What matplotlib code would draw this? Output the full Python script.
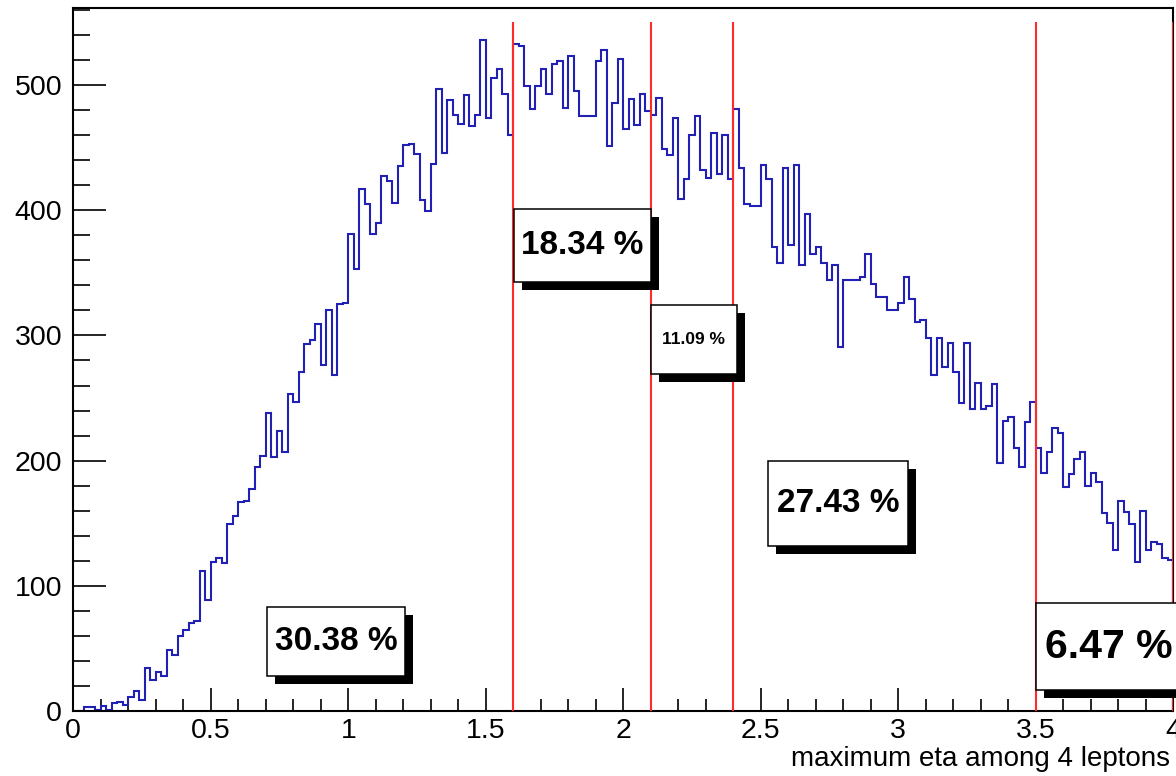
import matplotlib
matplotlib.use("Agg")
import matplotlib.pyplot as plt
import matplotlib.transforms as mtransforms
from matplotlib.patches import Rectangle
from matplotlib.ticker import MultipleLocator
import numpy as np

# 200 bins of 0.02 between 0 and 4
counts = [
    0, 0, 3, 3, 1, 4, 1, 6, 7, 5,
    11, 16, 9, 34, 25, 31, 28, 49, 45, 60,
    65, 70, 72, 112, 89, 119, 122, 118, 149, 156,
    167, 168, 177, 195, 204, 238, 203, 224, 207, 253,
    247, 271, 293, 296, 309, 276, 320, 268, 325, 326,
    381, 353, 417, 405, 381, 390, 427, 423, 406, 435,
    452, 453, 445, 408, 399, 437, 497, 446, 488, 476,
    469, 492, 467, 476, 536, 474, 506, 513, 493, 460,
    533, 531, 499, 481, 499, 513, 493, 517, 519, 482,
    523, 495, 475, 475, 475, 519, 528, 451, 486, 521,
    465, 489, 468, 493, 479, 476, 490, 449, 444, 474,
    409, 425, 460, 475, 432, 426, 462, 429, 460, 425,
    481, 434, 405, 403, 403, 436, 425, 371, 358, 434,
    372, 436, 356, 397, 365, 371, 358, 344, 356, 291,
    344, 344, 344, 347, 365, 341, 331, 331, 320, 320,
    326, 347, 329, 311, 312, 298, 268, 298, 275, 294,
    271, 246, 294, 241, 262, 241, 244, 261, 198, 232,
    235, 210, 195, 231, 247, 210, 190, 207, 226, 222,
    179, 189, 201, 207, 180, 190, 183, 158, 150, 129,
    168, 159, 149, 119, 160, 129, 135, 133, 122, 121,
]
x_min, x_max = 0.0, 4.0
edges = np.linspace(x_min, x_max, len(counts) + 1)

cut_values = [1.6, 2.1, 2.4, 3.5, 4.0]
cut_top = 550

labels = ["30.38 %", "18.34 %", "11.09 %", "27.43 %", "6.47 %"]
# boxes: x0, x1, y0, y1 in data units, text size
box_x0 = [0.704, 1.602, 2.101, 2.526, 3.500]
box_x1 = [1.206, 2.101, 2.413, 3.035, 4.030]
box_y0 = [28, 343, 269, 132, 17]
box_y1 = [83, 401, 324, 200, 86]
box_fs = [24, 24, 12.5, 24, 29.5]

W, H = 1176, 776
fig = plt.figure(figsize=(W / 100, H / 100), dpi=100)
ax = fig.add_axes([73.3 / W, 1 - 711 / H, 1100 / W, (711 - 8.3) / H])

ax.stairs(counts, edges, color="#2020b4", lw=1.5, zorder=2)
ax.vlines(cut_values, 0, cut_top, color="#ff2a2a", lw=1.5, zorder=3)

shadow = mtransforms.offset_copy(ax.transData, fig=fig, x=8, y=-8, units="dots")
for i in range(len(labels)):
    w = box_x1[i] - box_x0[i]
    h = box_y1[i] - box_y0[i]
    ax.add_patch(Rectangle((box_x0[i], box_y0[i]), w, h, facecolor="black",
                           edgecolor="none", transform=shadow, zorder=4, clip_on=False))
    ax.add_patch(Rectangle((box_x0[i], box_y0[i]), w, h, facecolor="white",
                           edgecolor="black", lw=1.1, zorder=5, clip_on=False))
    ax.text((box_x0[i] + box_x1[i]) / 2, (box_y0[i] + box_y1[i]) / 2, labels[i],
            ha="center", va="center", fontsize=box_fs[i], fontweight="bold",
            family="Liberation Sans", zorder=6, clip_on=False)

ax.set_xlim(x_min, x_max)
ax.set_ylim(0, 561.3)

ax.xaxis.set_major_locator(MultipleLocator(0.5))
ax.xaxis.set_minor_locator(MultipleLocator(0.1))
ax.yaxis.set_major_locator(MultipleLocator(100))
ax.yaxis.set_minor_locator(MultipleLocator(20))
ax.xaxis.set_major_formatter(plt.FuncFormatter(lambda v, p: f"{v:g}"))

ax.tick_params(axis="x", which="major", direction="in", length=16.5, width=1.2,
               top=False, labelsize=20.5, pad=5)
ax.tick_params(axis="x", which="minor", direction="in", length=8.5, width=1.2, top=False)
ax.tick_params(axis="y", which="major", direction="in", length=23.5, width=1.2,
               right=False, labelsize=20.5, pad=8)
ax.tick_params(axis="y", which="minor", direction="in", length=12, width=1.2, right=False)
for lab in ax.get_xticklabels() + ax.get_yticklabels():
    lab.set_family("Liberation Sans")

for s in ax.spines.values():
    s.set_linewidth(1.5)
    s.set_color("black")

ax.set_xlabel("maximum eta among 4 leptons", fontsize=20, family="Liberation Sans",
              ha="right")
ax.xaxis.set_label_coords(0.997, -0.05)

fig.savefig("out.png", dpi=100)
